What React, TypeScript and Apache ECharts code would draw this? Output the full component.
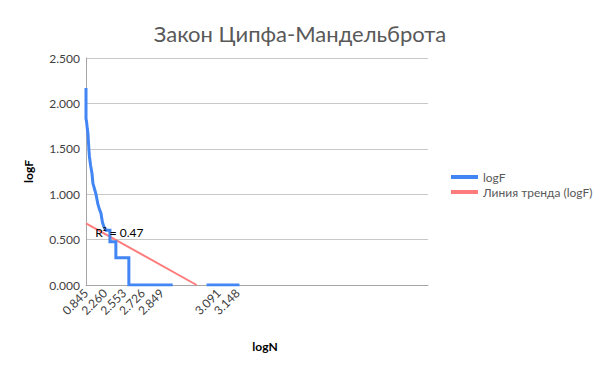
import React, { useEffect, useRef } from "react";
import * as echarts from "echarts";

// x = category index (rank - 7), y = logF
const blueIdx = [0, 0, 5, 12, 18, 24, 28, 32, 42, 55, 64, 78, 92, 110, 125, 138, 152, 166, 175, 184, 221, 221, 276, 276, 396, 396, 801, 950, 1114, 1418];
const blueLogF: (number | string)[] = [2.17, 1.83, 1.80, 1.72, 1.67, 1.55, 1.47, 1.41, 1.32, 1.23, 1.12, 1.06, 1.00, 0.89, 0.83, 0.79, 0.69, 0.64, 0.62, 0.602, 0.602, 0.477, 0.477, 0.301, 0.301, 0, 0, "-", 0, 0];

const trendIdx = [0, 1022];
const trendLogF = [0.68, 0];

const tickIdx = [0, 175, 350, 525, 700, 1225, 1400];
const tickLabels = ["0.845", "2.260", "2.553", "2.726", "2.849", "3.091", "3.148"];

const FONT = "Lato, 'Open Sans', sans-serif";

export default function App() {
  const ref = useRef<HTMLDivElement>(null);
  useEffect(() => {
    if (!ref.current) return;
    const chart = echarts.init(ref.current, undefined, { renderer: "svg" });
    chart.setOption({
      animation: false,
      textStyle: { fontFamily: FONT },
      title: {
        text: "Закон Ципфа-Мандельброта",
        left: "center",
        top: 17,
        textStyle: { fontFamily: FONT, fontSize: 22, fontWeight: "normal", color: "#595959" },
      },
      legend: {
        orient: "vertical",
        left: 446,
        top: 166,
        itemWidth: 27,
        itemHeight: 4,
        itemGap: 3,
        icon: "rect",
        textStyle: { fontFamily: FONT, fontSize: 12, color: "#595959" },
        data: ["logF", "Линия тренда (logF)"],
      },
      grid: { left: 86, right: 172, top: 58, bottom: 86, containLabel: false },
      xAxis: {
        type: "value",
        min: 0,
        max: 3160,
        name: "logN",
        nameLocation: "middle",
        nameGap: 55,
        nameTextStyle: { fontFamily: FONT, fontSize: 12, fontWeight: "bold", color: "#000", padding: [0, 0, 0, 16] },
        axisLine: { show: true, lineStyle: { color: "#a6a6a6", width: 1 } },
        axisTick: { show: false },
        splitLine: { show: false },
        axisLabel: {
          customValues: tickIdx,
          rotate: 45,
          fontFamily: FONT,
          fontSize: 12,
          color: "#404040",
          margin: 6,
          formatter: (v: number) => {
            const i = tickIdx.indexOf(Math.round(v));
            return i >= 0 ? tickLabels[i] : "";
          },
        },
      },
      yAxis: {
        type: "value",
        min: 0,
        max: 2.5,
        interval: 0.5,
        name: "logF",
        nameLocation: "middle",
        nameGap: 52,
        nameTextStyle: { fontFamily: FONT, fontSize: 12, fontWeight: "bold", color: "#000" },
        axisLine: { show: true, lineStyle: { color: "#a6a6a6", width: 1 } },
        axisTick: { show: false },
        splitLine: { show: true, lineStyle: { color: "#c8c8c8", width: 1 } },
        axisLabel: {
          fontFamily: FONT,
          fontSize: 12,
          color: "#404040",
          margin: 6,
          formatter: (v: number) => v.toFixed(3),
        },
      },
      series: [
        {
          name: "logF",
          type: "line",
          data: blueIdx.map((x, i) => [x, blueLogF[i]]),
          showSymbol: false,
          symbol: "none",
          connectNulls: false,
          lineStyle: { color: "#4285F4", width: 3, join: "miter" },
          itemStyle: { color: "#4285F4" },
          z: 3,
        },
        {
          name: "Линия тренда (logF)",
          type: "line",
          data: trendIdx.map((x, i) => [x, trendLogF[i]]),
          showSymbol: false,
          symbol: "none",
          lineStyle: { color: "#FF7C7C", width: 2 },
          itemStyle: { color: "#FF7C7C" },
          z: 2,
          markPoint: {
            symbol: "circle",
            symbolSize: 1,
            itemStyle: { color: "rgba(0,0,0,0)" },
            label: {
              show: true,
              position: "right",
              distance: 0,
              formatter: "R² = 0.47",
              fontFamily: FONT,
              fontSize: 12,
              color: "#000",
            },
            data: [{ coord: [80, 0.575] }],
          },
        },
      ],
    });
    return () => chart.dispose();
  }, []);
  return <div ref={ref} style={{ position: "absolute", left: 0, top: 0, width: 600, height: 371 }} />;
}
